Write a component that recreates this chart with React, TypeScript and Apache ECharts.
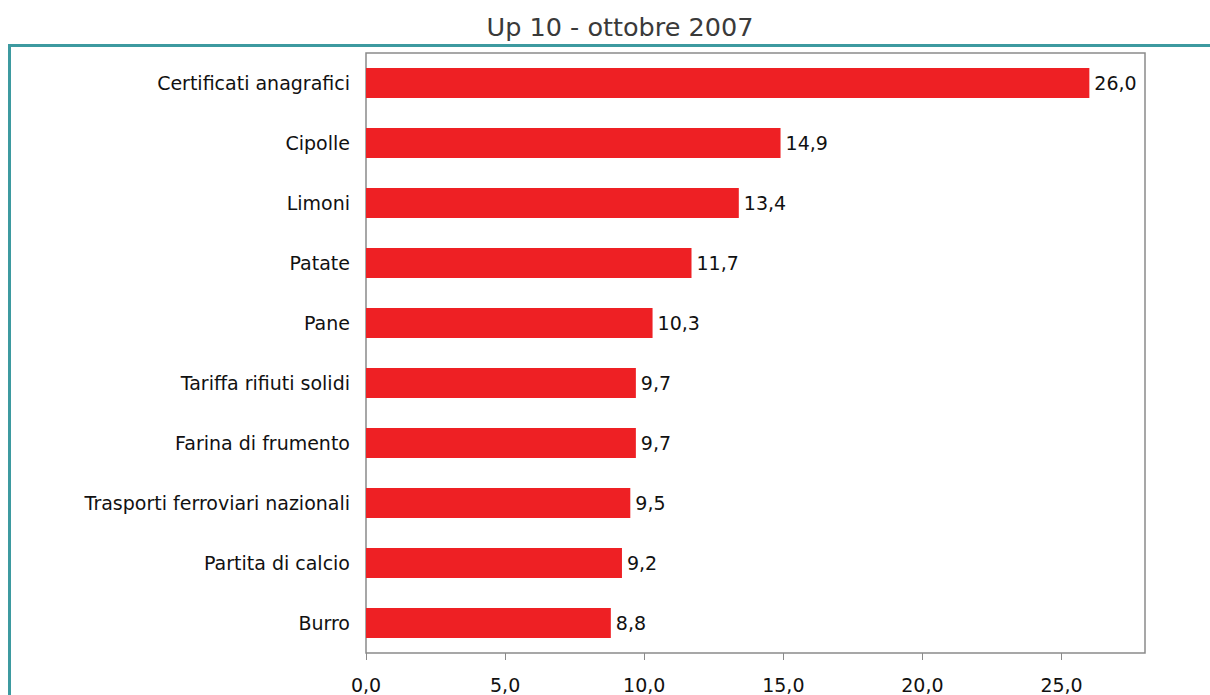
import React, { useEffect, useRef } from "react";
import * as echarts from "echarts";

const categories = [
  "Certificati anagrafici",
  "Cipolle",
  "Limoni",
  "Patate",
  "Pane",
  "Tariffa rifiuti solidi",
  "Farina di frumento",
  "Trasporti ferroviari nazionali",
  "Partita di calcio",
  "Burro",
];
const values = [26.0, 14.9, 13.4, 11.7, 10.3, 9.7, 9.7, 9.5, 9.2, 8.8];
const titleText = "Up 10 - ottobre 2007";

const fmt = (v: number) => v.toFixed(1).replace(".", ",");
const FONT = "DejaVu Sans, Liberation Sans, Arial, sans-serif";

export default function App() {
  const ref = useRef<HTMLDivElement>(null);
  useEffect(() => {
    if (!ref.current) return;
    const chart = echarts.init(ref.current, null, { renderer: "svg" });
    chart.setOption({
      animation: false,
      backgroundColor: "#ffffff",
      title: {
        text: titleText,
        left: 615,
        textAlign: "center",
        top: 9,
        textStyle: {
          fontFamily: FONT,
          fontSize: 25.5,
          fontWeight: "normal",
          color: "#3a3a3a",
        },
      },
      graphic: [
        {
          type: "line",
          shape: { x1: 8, y1: 45.5, x2: 1210, y2: 45.5 },
          style: { stroke: "#3d9aa0", lineWidth: 3 },
        },
        {
          type: "line",
          shape: { x1: 9.5, y1: 45, x2: 9.5, y2: 695 },
          style: { stroke: "#3d9aa0", lineWidth: 3 },
        },
      ],
      grid: {
        left: 366,
        right: 65,
        top: 53,
        bottom: 42,
        show: true,
        borderColor: "#8a8a8a",
        borderWidth: 1.5,
        containLabel: false,
      },
      xAxis: {
        type: "value",
        min: 0,
        max: 28,
        interval: 5,
        axisLine: { show: false },
        axisTick: { show: true, length: 7, lineStyle: { color: "#8a8a8a" } },
        splitLine: { show: false },
        axisLabel: {
          formatter: (v: number) => (v > 25 ? "" : fmt(v)),
          fontFamily: FONT,
          fontSize: 19,
          color: "#111111",
          margin: 22,
          showMaxLabel: false,
        },
      },
      yAxis: {
        type: "category",
        data: categories,
        inverse: true,
        axisLine: { show: false },
        axisTick: { show: false },
        axisLabel: {
          fontFamily: FONT,
          fontSize: 19,
          color: "#111111",
          margin: 16,
        },
      },
      series: [
        {
          type: "bar",
          data: values,
          barWidth: "50%",
          itemStyle: { color: "#ee2024" },
          label: {
            show: true,
            position: "right",
            distance: 5,
            formatter: (p: any) => fmt(p.value),
            fontFamily: FONT,
            fontSize: 19,
            color: "#111111",
          },
        },
      ],
    });
    return () => chart.dispose();
  }, []);
  return <div ref={ref} style={{ width: 1210, height: 695, position: "absolute", left: 0, top: 0 }} />;
}
